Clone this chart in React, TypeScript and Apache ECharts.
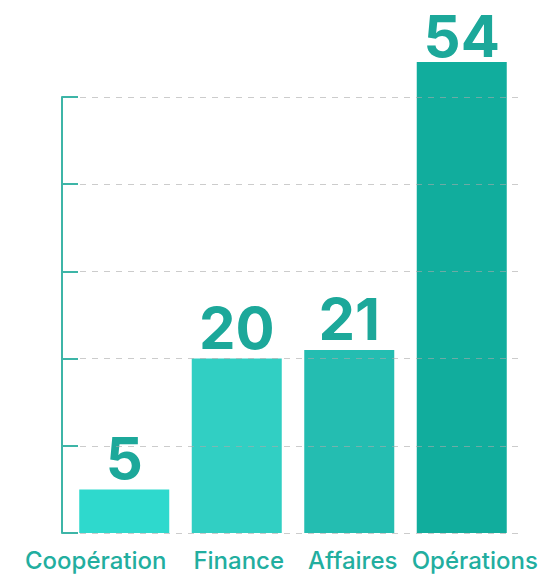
import React, { useEffect, useRef } from "react";
import * as echarts from "echarts";

const categories = ["Coopération", "Finance", "Affaires", "Opérations"];
const values = [5, 20, 21, 54];
const barColors = ["#2ED9CD", "#31CFC3", "#24BDB1", "#11AD9D"];
const labelShift = [-57, 4, 7, 26];

export default function App() {
  const ref = useRef<HTMLDivElement>(null);
  useEffect(() => {
    if (!ref.current) return;
    const chart = echarts.init(ref.current, null, { renderer: "svg" });
    const rich: Record<string, any> = {};
    labelShift.forEach((s, i) => {
      rich["c" + i] = {
        fontFamily: "Inter",
        fontSize: 24,
        fontWeight: 500,
        color: "#22AE9F",
        padding: s < 0 ? [0, -s, 0, 0] : [0, 0, 0, s],
      };
    });
    chart.setOption({
      animation: false,
      grid: { left: 68, width: 450, top: 97, bottom: 42 },
      xAxis: {
        type: "category",
        data: categories,
        axisLine: { show: false },
        axisTick: { show: false },
        axisLabel: {
          interval: 0,
          margin: 15,
          formatter: (v: string, i: number) => `{c${i}|${v}}`,
          rich,
        },
      },
      yAxis: {
        type: "value",
        min: 0,
        max: 50,
        interval: 10,
        offset: 6,
        z: 5,
        axisLabel: { show: false },
        axisLine: { show: true, lineStyle: { color: "#3DB5A7", width: 2 } },
        axisTick: { show: true, inside: true, length: 16, lineStyle: { color: "#3DB5A7", width: 2 } },
        splitLine: {
          show: true,
          lineStyle: { color: "rgba(170,170,170,0.6)", type: [6, 6], width: 1.2 },
        },
      },
      series: [
        {
          type: "bar",
          clip: false,
          barWidth: 90,
          data: values.map((v, i) => ({
            value: v,
            itemStyle: { color: barColors[i] },
            label: i === 3 ? { distance: 3 } : undefined,
          })),
          label: {
            show: true,
            position: "top",
            distance: 8,
            fontFamily: "Inter",
            fontWeight: 700,
            fontSize: 58,
            lineHeight: 46,
            color: "#1CA89A",
          },
        },
      ],
    });
    return () => chart.dispose();
  }, []);
  return (
    <div
      ref={ref}
      style={{ position: "fixed", left: 0, top: 0, width: 554, height: 575, background: "#fff" }}
    />
  );
}
